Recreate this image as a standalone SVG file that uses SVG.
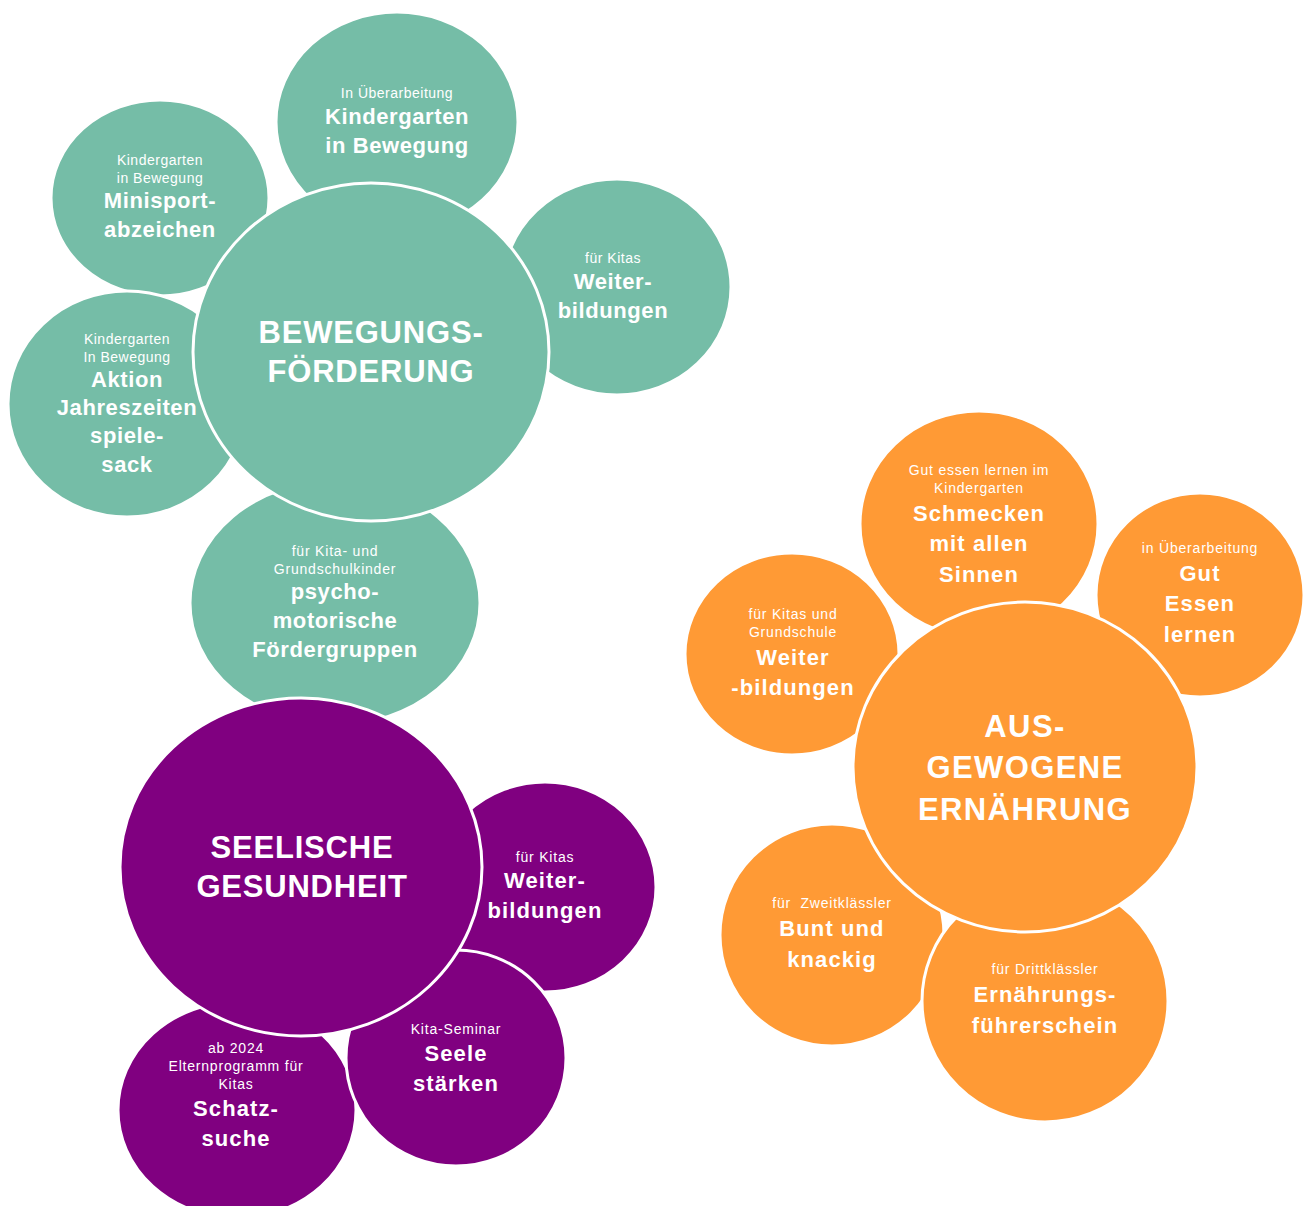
<svg xmlns="http://www.w3.org/2000/svg" width="1303" height="1206" viewBox="0 0 1303 1206">
<style>
.g{fill:#75BDA7;stroke:#fff;stroke-width:3}
.o{fill:#FF9A35;stroke:#fff;stroke-width:3}
.p{fill:#800080;stroke:#fff;stroke-width:3}
text{font-family:"Liberation Sans",Arial,sans-serif;fill:#fff;text-anchor:middle;white-space:pre}
.s{font-size:14px;letter-spacing:0.5px}
.b{font-size:22px;font-weight:bold;letter-spacing:0.6px}
.h{font-size:31px;font-weight:bold;letter-spacing:0.8px}
.w .s{letter-spacing:0.8px}
.w .b{letter-spacing:1.1px}
.w .h{letter-spacing:1.4px}
</style>
<rect width="1303" height="1206" fill="#fff"/>
<g id="connectors"></g>

<!-- Green cluster -->
<g id="n-minisport">
<ellipse class="g" cx="160" cy="198" rx="109" ry="98"/>
<text class="s" x="160" y="165">Kindergarten</text>
<text class="s" x="160" y="183">in Bewegung</text>
<text class="b" x="160" y="208">Minisport-</text>
<text class="b" x="160" y="237">abzeichen</text>
</g>
<g id="n-aktion">
<ellipse class="g" cx="127" cy="404" rx="119" ry="113"/>
<text class="s" x="127" y="344">Kindergarten</text>
<text class="s" x="127" y="362">In Bewegung</text>
<text class="b" x="127" y="387">Aktion</text>
<text class="b" x="127" y="415">Jahreszeiten</text>
<text class="b" x="127" y="443">spiele-</text>
<text class="b" x="127" y="472">sack</text>
</g>
<g id="n-kita-bewegung">
<ellipse class="g" cx="397" cy="122" rx="121" ry="110"/>
<text class="s" x="397" y="98">In Überarbeitung</text>
<text class="b" x="397" y="124">Kindergarten</text>
<text class="b" x="397" y="153">in Bewegung</text>
</g>
<g id="n-weiter-green">
<ellipse class="g" cx="617" cy="287" rx="114" ry="108"/>
<text class="s" x="613" y="263">für Kitas</text>
<text class="b" x="613" y="289">Weiter-</text>
<text class="b" x="613" y="318">bildungen</text>
</g>
<g id="n-psycho" class="w">
<ellipse class="g" cx="335" cy="603" rx="145" ry="122"/>
<text class="s" x="335" y="556">für Kita- und</text>
<text class="s" x="335" y="574">Grundschulkinder</text>
<text class="b" x="335" y="599" style="letter-spacing:0.6px">psycho-</text>
<text class="b" x="335" y="628" style="letter-spacing:0.6px">motorische</text>
<text class="b" x="335" y="657" style="letter-spacing:0.6px">Fördergruppen</text>
</g>
<g id="n-bewegung">
<ellipse class="g" cx="371" cy="352" rx="178" ry="169"/>
<text class="h" x="371" y="343">BEWEGUNGS-</text>
<text class="h" x="371" y="382">FÖRDERUNG</text>
</g>

<!-- Purple cluster -->
<g id="n-schatzsuche" class="w">
<ellipse class="p" cx="237" cy="1110" rx="119" ry="108"/>
<text class="s" x="236" y="1053">ab 2024</text>
<text class="s" x="236" y="1071">Elternprogramm für</text>
<text class="s" x="236" y="1089">Kitas</text>
<text class="b" x="236" y="1116">Schatz-</text>
<text class="b" x="236" y="1146">suche</text>
</g>
<g id="n-weiter-purple" class="w">
<ellipse class="p" cx="545" cy="887" rx="111" ry="105"/>
<text class="s" x="545" y="862">für Kitas</text>
<text class="b" x="545" y="888">Weiter-</text>
<text class="b" x="545" y="918">bildungen</text>
</g>
<g id="n-seele" class="w">
<ellipse class="p" cx="456" cy="1058" rx="110" ry="108"/>
<text class="s" x="456" y="1034">Kita-Seminar</text>
<text class="b" x="456" y="1061">Seele</text>
<text class="b" x="456" y="1091">stärken</text>
</g>
<g id="n-seelische">
<ellipse class="p" cx="301" cy="867" rx="181" ry="169"/>
<text class="h" x="302" y="858">SEELISCHE</text>
<text class="h" x="302" y="897">GESUNDHEIT</text>
</g>

<!-- Orange cluster -->
<g id="n-bunt" class="w">
<ellipse class="o" cx="832" cy="935" rx="112" ry="111"/>
<text class="s" x="832" y="908">für  Zweitklässler</text>
<text class="b" x="832" y="936">Bunt und</text>
<text class="b" x="832" y="967">knackig</text>
</g>
<g id="n-fuehrerschein" class="w">
<ellipse class="o" cx="1045" cy="1001" rx="123" ry="121"/>
<text class="s" x="1045" y="974">für Drittklässler</text>
<text class="b" x="1045" y="1002">Ernährungs-</text>
<text class="b" x="1045" y="1033">führerschein</text>
</g>
<g id="n-weiter-orange" class="w">
<ellipse class="o" cx="792" cy="654" rx="107" ry="101"/>
<text class="s" x="793" y="619">für Kitas und</text>
<text class="s" x="793" y="637">Grundschule</text>
<text class="b" x="793" y="665">Weiter</text>
<text class="b" x="793" y="695">-bildungen</text>
</g>
<g id="n-schmecken" class="w">
<ellipse class="o" cx="979" cy="524" rx="119" ry="113"/>
<text class="s" x="979" y="475">Gut essen lernen im</text>
<text class="s" x="979" y="493">Kindergarten</text>
<text class="b" x="979" y="521">Schmecken</text>
<text class="b" x="979" y="551">mit allen</text>
<text class="b" x="979" y="582">Sinnen</text>
</g>
<g id="n-gut-essen" class="w">
<ellipse class="o" cx="1200" cy="595" rx="104" ry="102"/>
<text class="s" x="1200" y="553">in Überarbeitung</text>
<text class="b" x="1200" y="581">Gut</text>
<text class="b" x="1200" y="611">Essen</text>
<text class="b" x="1200" y="642">lernen</text>
</g>
<g id="n-ernaehrung" class="w">
<ellipse class="o" cx="1025" cy="767" rx="172" ry="165"/>
<text class="h" x="1025" y="737">AUS-</text>
<text class="h" x="1025" y="778">GEWOGENE</text>
<text class="h" x="1025" y="820">ERNÄHRUNG</text>
</g>
</svg>
